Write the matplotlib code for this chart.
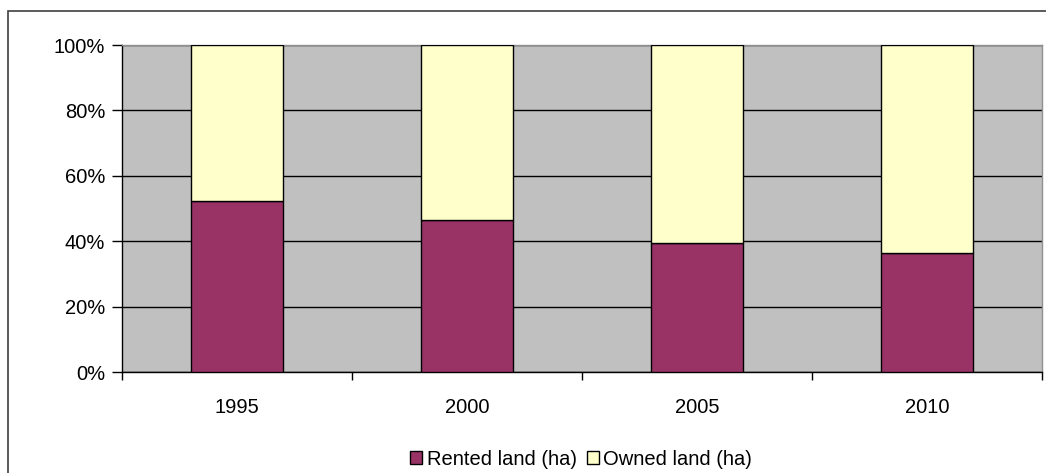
import numpy as np
import matplotlib.pyplot as plt
from matplotlib.patches import Rectangle

years = ['1995', '2000', '2005', '2010']
rented = [52.3, 46.5, 39.4, 36.4]
owned = [100 - r for r in rented]

plt.rcParams['font.family'] = ['Liberation Sans', 'DejaVu Sans']

W, H = 1046, 473
fig = plt.figure(figsize=(W / 100, H / 100), dpi=100)
ax = fig.add_axes([122 / W, 1 - 372 / H, (1042 - 122) / W, (372 - 45) / H])
ax.set_facecolor('#C0C0C0')

x = np.arange(len(years))
ax.bar(x, rented, width=0.4, color='#993366', edgecolor='black', linewidth=1,
       label='Rented land (ha)', zorder=3)
ax.bar(x, owned, width=0.4, bottom=rented, color='#FFFFCC', edgecolor='black',
       linewidth=1, label='Owned land (ha)', zorder=3)

ax.set_xlim(-0.5, len(years) - 0.5)
ax.set_ylim(0, 100)
ax.set_yticks(np.arange(0, 101, 20))
ax.set_yticklabels([f'{v}%' for v in range(0, 101, 20)], fontsize=14.5)
ax.yaxis.grid(True, color='black', linewidth=1, zorder=1)
ax.set_axisbelow(True)

ax.set_xticks(np.arange(-0.5, len(years), 1.0))
ax.set_xticklabels([])
ax.set_xticks(x, minor=True)
ax.set_xticklabels(years, minor=True, fontsize=14.5)
ax.tick_params(axis='x', which='major', length=6, width=1, direction='out')
ax.tick_params(axis='x', which='minor', length=0, pad=19)
ax.tick_params(axis='y', length=7, width=1, direction='out', pad=5)

for s in ['left', 'bottom']:
    ax.spines[s].set_color('black')
    ax.spines[s].set_linewidth(1)
for s in ['top', 'right']:
    ax.spines[s].set_color('#909090')
    ax.spines[s].set_linewidth(1)

leg = fig.legend(loc='center', bbox_to_anchor=(581 / W, 1 - 459 / H), ncol=2,
                 frameon=False, fontsize=14.5, handlelength=0.6, handleheight=0.6,
                 handletextpad=0.2, columnspacing=0.5)

fig.patches.append(Rectangle((8 / W, -0.1), 1.2, 1 - 11 / H + 0.1,
                             transform=fig.transFigure, fill=False,
                             edgecolor='#404040', linewidth=1.2))

fig.savefig('out.png', dpi=100)
